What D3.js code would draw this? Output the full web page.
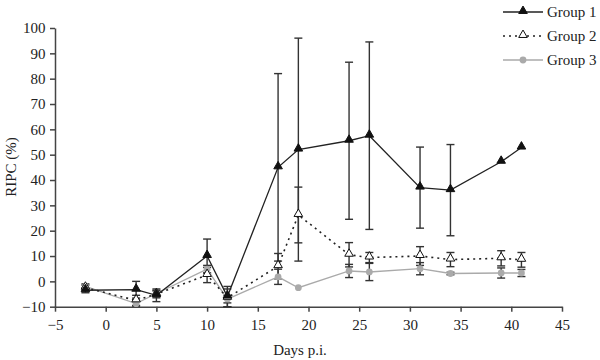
<!DOCTYPE html>
<html><head><meta charset="utf-8">
<script src="https://cdn.jsdelivr.net/npm/d3@7"></script>
<style>body{margin:0;background:#fff}svg{display:block}text{font-family:"Liberation Serif","Times New Roman",serif}</style>
</head><body><svg id="c" width="600" height="360"></svg>
<script>
const days = [-2, 3, 5, 10, 12, 17, 19, 24, 26, 31, 34, 39, 41];
const g1 = [-3.5, -3.3, -5.5, 10, -6, 45, 52, 55.5, 57.5, 37, 36, 47.2, 52.8];
const g1Err = [1, 3.3, 2.5, 6.7, 4, 37, 44, 31, 37, 16, 18, 0, 0];
const g2 = [-2.5, -7.5, -5, 2.5, -6.5, 6, 26.2, 10.5, 9.4, 10, 8.6, 9.1, 8.5];
const g2Err = [1, 2, 1.5, 3, 3.5, 5, 11, 4.8, 2, 3.7, 2.8, 3, 2.9];
const g3 = [-2, -8.8, -4.8, 4.8, -7, 1.8, -2.5, 4.1, 3.7, 5, 3.1, 3.3, 3.3];
const g3Err = [1, 1, 1, 1.5, 1.5, 3, 0, 2.6, 3.4, 2.4, 0.5, 2, 1.4];
const groupNames = ["Group 1", "Group 2", "Group 3"];
const xTicks = [-5, 0, 5, 10, 15, 20, 25, 30, 35, 40, 45];
const yTicks = [-10, 0, 10, 20, 30, 40, 50, 60, 70, 80, 90, 100];

const svg = d3.select("#c");
const x = d3.scaleLinear().domain([-5, 45]).range([55, 562]);
const y = d3.scaleLinear().domain([-10, 100]).range([306.7, 28]);

const axisCol = "#444";
const gx = svg.append("g").attr("transform", `translate(0,${y(-10)})`)
  .call(d3.axisBottom(x).tickValues(xTicks).tickSize(5).tickSizeOuter(0).tickFormat(d => d < 0 ? "\u2212" + Math.abs(d) : d));
const gy = svg.append("g").attr("transform", `translate(${x(-5)},0)`)
  .call(d3.axisLeft(y).tickValues(yTicks).tickSize(5).tickSizeOuter(0).tickFormat(d => d < 0 ? "\u2212" + Math.abs(d) : d));
[gx, gy].forEach(g => {
  g.selectAll("path,line").attr("stroke", axisCol).attr("stroke-width", 1.5);
  g.selectAll("text").attr("font-size", 15).attr("fill", "#222").attr("font-family", "Liberation Serif, serif");
});
gx.selectAll("text").attr("dy", "1.05em");
gy.selectAll("text").attr("dx", "-0.1em");

svg.append("text").attr("x", 300).attr("y", 355).attr("text-anchor", "middle")
  .attr("font-size", 15).attr("fill", "#222").text("Days p.i.");
svg.append("text").attr("transform", "translate(16,167) rotate(-90)").attr("text-anchor", "middle")
  .attr("font-size", 15).attr("fill", "#222").text("RIPC (%)");

const series = [
  {vals: g1, err: g1Err, col: "#222", dash: null, marker: "tri", fill: "#111"},
  {vals: g2, err: g2Err, col: "#222", dash: "2,4", marker: "tri", fill: "#fff"},
  {vals: g3, err: g3Err, col: "#aaa", dash: null, marker: "circ", fill: "#aaa"}
];

// error bars
series.forEach(s => {
  days.forEach((d, i) => {
    if (!s.err[i]) return;
    const cx = x(d), y1 = y(s.vals[i] + s.err[i]), y2 = y(s.vals[i] - s.err[i]);
    const g = svg.append("g").attr("stroke", "#333").attr("stroke-width", 1.4);
    g.append("line").attr("x1", cx).attr("x2", cx).attr("y1", y1).attr("y2", y2);
    g.append("line").attr("x1", cx - 4).attr("x2", cx + 4).attr("y1", y1).attr("y2", y1);
    g.append("line").attr("x1", cx - 4).attr("x2", cx + 4).attr("y1", y2).attr("y2", y2);
  });
});

const line = d3.line().x((v, i) => x(days[i])).y(v => y(v));
const triSym = d3.symbol().type(d3.symbolTriangle).size(32);
const cirSym = d3.symbol().type(d3.symbolCircle).size(36);

function drawMarker(g, s, cx, cy) {
  g.append("path").attr("d", s.marker === "tri" ? triSym() : cirSym())
    .attr("transform", `translate(${cx},${cy - (s.marker === "tri" ? 1 : 0)})`)
    .attr("fill", s.fill).attr("stroke", s.marker === "tri" ? "#111" : "none").attr("stroke-width", 1);
}

series.slice().reverse().forEach(s => {
  svg.append("path").attr("d", line(s.vals)).attr("fill", "none")
    .attr("stroke", s.col).attr("stroke-width", s.dash ? 1.6 : 1.3)
    .attr("stroke-dasharray", s.dash);
  const mg = svg.append("g");
  days.forEach((d, i) => drawMarker(mg, s, x(d), y(s.vals[i])));
});

// legend
const leg = svg.append("g");
groupNames.forEach((n, k) => {
  const s = series[k];
  const ly = 12 + k * 24;
  leg.append("line").attr("x1", 503).attr("x2", 543).attr("y1", ly).attr("y2", ly)
    .attr("stroke", s.col).attr("stroke-width", s.dash ? 1.6 : 1.3).attr("stroke-dasharray", s.dash);
  drawMarker(leg, s, 523, ly);
  leg.append("text").attr("x", 547).attr("y", ly).attr("dy", "0.35em")
    .attr("font-size", 15).attr("fill", "#222").text(n);
});
</script></body></html>
